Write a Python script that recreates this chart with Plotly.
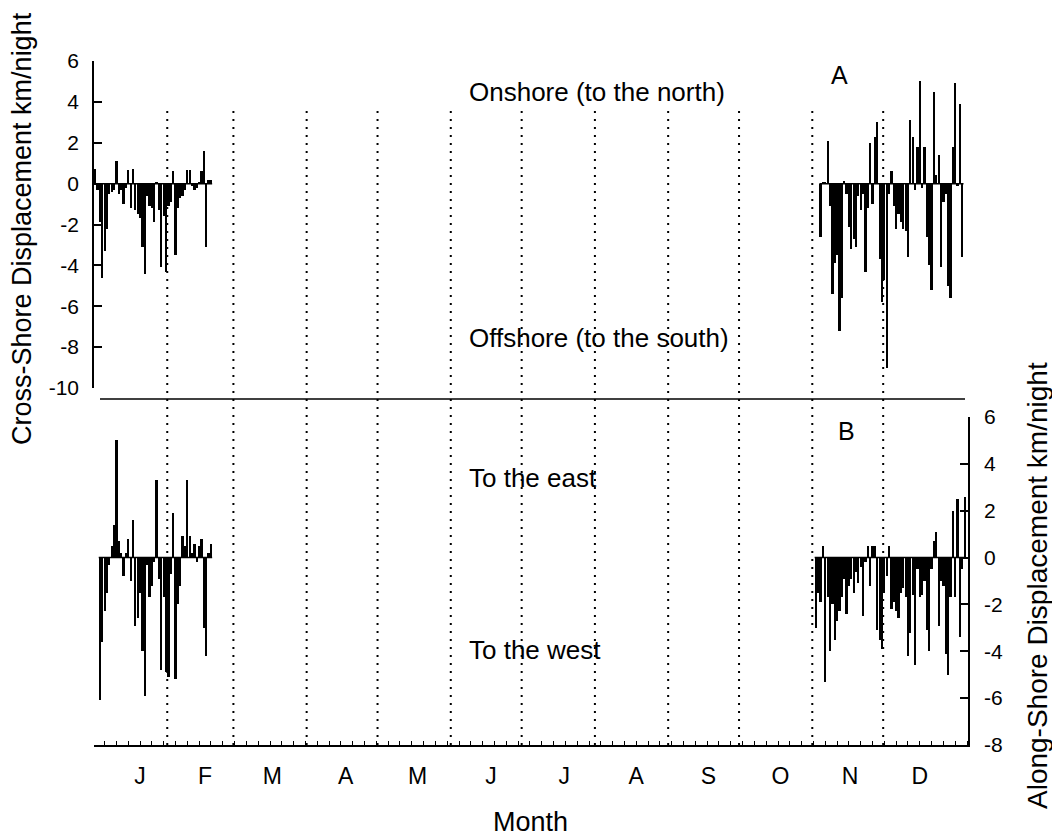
import plotly.graph_objects as go

# ---------------- data ----------------
months = ["J", "F", "M", "A", "M", "J", "J", "A", "S", "O", "N", "D"]
month_label_pos = [20, 47.5, 76, 107, 137.5, 168.5, 199.5, 230, 260.5, 291, 320.5, 350]
month_bounds = [31.5, 59.5, 90.5, 120.5, 151.5, 181.5, 212.5, 243.5, 273.5, 304.5, 334.5]

y1_ticks = [-10, -8, -6, -4, -2, 0, 2, 4, 6]
y1_text = ["-10", "-8", "-6", "-4", "-2", "0", "2", "4", "6"]
y2_ticks = [-8, -6, -4, -2, 0, 2, 4, 6]
y2_text = ["-8", "-6", "-4", "-2", "0", "2", "4", "6"]

# Panel A: cross-shore displacement (km/night), consecutive days
a_jan_start = 1
a_jan = [0.7, -0.3, -1.9, -4.6, -3.3, -2.2, -0.5, -0.4, -0.3, 1.1,
         -0.5, -0.3, -1.0, -0.2, 0.65, -1.2, 0.7, -1.3, -1.5, -1.7,
         -3.1, -4.4, -0.6, -1.1, -1.2, -1.9, 0.1, -1.3, -4.1, -1.6,
         -4.3, -1.1, -0.9, 0.6, -3.5, -1.2, -0.7, -0.6, -0.3, 0.65,
         0.65, -0.1, -0.3, -0.2, 0.1, 0.6, 1.6, -3.1, 0.2, 0.2]
a_nd_start = 308
a_nd = [-2.6, 0.1, 0.1, 2.1, -1.1, -5.4, -3.9, -3.5, -7.2, -5.6,
        0.15, -0.5, -2.1, -3.2, -2.7, -3.1, -0.6, -1.3, -0.5, -4.3,
        -1.2, 2.0, -1.0, 2.3, 3.0, -3.7, -5.8, -4.7, -9.0, -0.5,
        0.6, -1.1, -2.2, -1.5, -1.9, -2.2, -2.3, -3.6, 3.1, 2.3,
        -0.3, 1.8, 5.0, -0.2, 1.8, -2.6, -4.0, -5.2, 4.5, 0.4,
        1.4, -4.1, -0.9, -0.5, -5.0, -5.6, 1.8, 4.9, -0.1, 3.9,
        -3.6]

# Panel B: along-shore displacement (km/night), consecutive days
b_jan_start = 3
b_jan = [-6.1, -3.6, -2.3, -1.5, -0.3, 0.5, 1.4, 5.0, 0.7, 0.2,
         -0.8, 0.2, 0.8, -1.0, 1.6, -2.9, -2.6, -1.5, -4.0, -5.9,
         -0.3, -1.7, -1.2, -0.2, 3.3, -0.9, -4.8, -1.7, -4.9, -5.1,
         -0.7, 1.9, -5.2, -2.0, -1.2, 0.9, 0.5, 3.3, 0.9, 0.2,
         0.6, -0.2, 0.5, 0.8, -3.0, -4.2, 0.2, 0.6]
b_nd_start = 306
b_nd = [-3.0, -1.5, -1.9, 0.5, -5.3, -1.7, -4.0, -2.0, -3.5, -2.7,
        -2.3, -1.7, -0.9, -2.4, -1.2, -0.9, -1.5, -0.6, -1.1, -0.4,
        -2.5, -0.2, 0.5, -1.2, 0.5, 0.5, -3.1, -3.5, -3.9, -1.5,
        -0.8, 0.5, -2.2, -1.9, -2.3, -2.6, -1.5, -1.3, -1.7, -4.2,
        -3.2, -1.6, -4.6, -0.5, -1.7, -1.6, -1.0, -3.1, -4.0, -0.5,
        0.7, 1.1, -2.9, -1.0, -1.2, -4.1, -5.0, -1.7, 2.0, -1.7,
        2.5, -3.4, -0.5, 2.6]

# ---------------- geometry (page body has an 8px margin) ----------------
OFF = 8
W, H = 1060 - OFF, 840 - OFF
PLOT_L, PLOT_R, PLOT_T, PLOT_B = 94, 968, 61, 745   # plot area in window px
L, T = PLOT_L - OFF, PLOT_T - OFF
R, B = (OFF + W) - PLOT_R, (OFF + H) - PLOT_B
PW, PH = PLOT_R - PLOT_L, PLOT_B - PLOT_T


def px(x):
    return (x - PLOT_L) / PW


def py(y):
    return (PLOT_B - y) / PH


FONT = "Liberation Sans, Arial, sans-serif"

fig = go.Figure()


def add_series(start, vals, xa, ya):
    days = [start + i for i in range(len(vals))]
    fig.add_trace(go.Bar(x=days, y=vals, xaxis=xa, yaxis=ya, width=0.95,
                         marker=dict(color="black", line=dict(width=0)),
                         showlegend=False, hoverinfo="x+y"))
    # zero baseline over the data extent
    fig.add_trace(go.Scatter(x=[days[0] - 0.5, days[-1] + 0.5], y=[0, 0],
                             xaxis=xa, yaxis=ya, mode="lines",
                             line=dict(color="black", width=1.5),
                             showlegend=False, hoverinfo="skip"))


add_series(a_jan_start, a_jan, "x2", "y")
add_series(a_nd_start, a_nd, "x2", "y")
add_series(b_jan_start, b_jan, "x", "y2")
add_series(b_nd_start, b_nd, "x", "y2")

top_dom = [py(388), 1.0]
bot_dom = [0.0, py(417)]

fig.update_layout(
    width=W, height=H,
    margin=dict(l=L, r=R, t=T, b=B, autoexpand=False),
    paper_bgcolor="white", plot_bgcolor="white",
    font=dict(family=FONT, color="black"),
    bargap=0,
    xaxis=dict(domain=[0, 1], anchor="y2", range=[0.5, 370.4],
               automargin=False,
               showline=True, linecolor="black", linewidth=1.5,
               showgrid=False, zeroline=False,
               tickmode="array", tickvals=month_label_pos, ticktext=months,
               ticks="", tickfont=dict(size=23, family=FONT),
               ticklabelstandoff=10,
               minor=dict(ticks="inside", ticklen=4, tickcolor="black",
                          tickwidth=1, tickmode="linear", tick0=5, dtick=5,
                          showgrid=False)),
    xaxis2=dict(matches="x", anchor="y", domain=[0, 1], range=[0.5, 370.4],
                visible=False, automargin=False),
    yaxis=dict(domain=top_dom, anchor="x2", range=[-10, 6], automargin=False,
               showline=True, linecolor="black", linewidth=1.5,
               showgrid=False, zeroline=False,
               tickmode="array", tickvals=y1_ticks, ticktext=y1_text,
               ticks="inside", ticklen=8, tickwidth=1.5, tickcolor="black",
               tickfont=dict(size=21, family=FONT), ticklabelstandoff=9),
    yaxis2=dict(domain=bot_dom, anchor="x", side="right", range=[-8, 6],
                automargin=False,
                showline=True, linecolor="black", linewidth=1.5,
                showgrid=False, zeroline=False,
                tickmode="array", tickvals=y2_ticks, ticktext=y2_text,
                ticks="inside", ticklen=8, tickwidth=1.5, tickcolor="black",
                tickfont=dict(size=21, family=FONT), ticklabelstandoff=10),
)

# dotted month-boundary lines
for xb in month_bounds:
    fig.add_shape(type="line", xref="x", yref="paper", x0=xb, x1=xb,
                  y0=0, y1=py(108),
                  line=dict(color="black", width=2, dash="2px,6px"))

# separator line between panels
fig.add_shape(type="line", xref="paper", yref="paper", x0=px(100), x1=px(965),
              y0=py(399), y1=py(399), line=dict(color="black", width=1.5))

ann = [
    ("Onshore (to the north)", 467, 92, "left", 26, 0),
    ("Offshore (to the south)", 467, 338, "left", 26, 0),
    ("To the east", 467, 478, "left", 26, 0),
    ("To the west", 467, 650, "left", 26, 0),
    ("A", 839, 75, "center", 25, 0),
    ("B", 846, 431, "center", 25, 0),
    ("Month", 530, 822, "center", 27, 0),
    ("Cross-Shore Displacement km/night", 22, 229, "center", 27, -90),
    ("Along-Shore Displacement km/night", 1037, 586, "center", 28, -90),
]
for text, x, y, xa, size, ang in ann:
    fig.add_annotation(text=text, xref="paper", yref="paper",
                       x=px(x), y=py(y), xanchor=xa, yanchor="middle",
                       showarrow=False, textangle=ang,
                       font=dict(size=size, family=FONT, color="black"))

fig.write_html("out.html")
